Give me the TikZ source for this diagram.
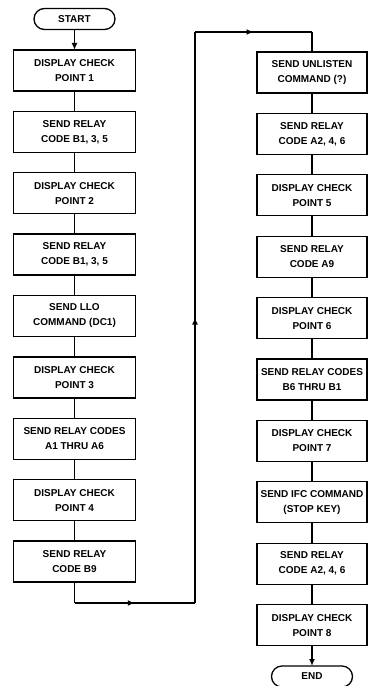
\documentclass[tikz,border=0pt]{standalone}
\usepackage{fontspec}
\setsansfont{Liberation Sans}
\usetikzlibrary{arrows.meta, positioning, decorations.markings}
\tikzset{
  term/.style={rectangle, rounded corners=10.5pt, draw=black, line width=1.3pt,
    minimum width=81pt, minimum height=21pt, inner sep=0pt, outer sep=0pt,
    font=\sffamily\bfseries\fontsize{10}{12}\selectfont},
  proc/.style={rectangle, draw=black, line width=1.3pt,
    minimum width=122pt, minimum height=41pt, inner sep=0pt, outer sep=0pt,
    align=center, font=\sffamily\bfseries\fontsize{10}{15}\selectfont},
  procr/.style={proc, minimum width=110pt},
  arr/.style={-{Latex[length=7pt,width=6pt]}, draw=black, line width=1.3pt},
  link/.style={draw=black, line width=1.3pt},
  midarr/.style={link, decoration={markings,
    mark=at position 0.5 with {\arrow{Latex[length=7pt,width=6pt]}}},
    postaction={decorate}},
}

\begin{document}
\begin{tikzpicture}[x=1pt, y=-1pt, node distance=20.4pt]
    \useasboundingbox (0,0) rectangle (368,686);

    % left column
    \node[term] (start)   at (74.5,19)          {START};
    \node[proc] (cpone)   [below=of start]      {DISPLAY CHECK\\POINT 1};
    \node[proc] (rbone)   [below=of cpone]      {SEND RELAY\\CODE B1, 3, 5};
    \node[proc] (cptwo)   [below=of rbone]      {DISPLAY CHECK\\POINT 2};
    \node[proc] (rbtwo)   [below=of cptwo]      {SEND RELAY\\CODE B1, 3, 5};
    \node[proc] (llo)     [below=of rbtwo]      {SEND LLO\\COMMAND (DC1)};
    \node[proc] (cpthree) [below=of llo]        {DISPLAY CHECK\\POINT 3};
    \node[proc] (raall)   [below=of cpthree]    {SEND RELAY CODES\\A1 THRU A6};
    \node[proc] (cpfour)  [below=of raall]      {DISPLAY CHECK\\POINT 4};
    \node[proc] (rbnine)  [below=of cpfour]     {SEND RELAY\\CODE B9};

    % right column
    \node[procr] (unl)     at (312,72.5)         {SEND UNLISTEN\\COMMAND (?)};
    \node[procr] (raeven)  [below=of unl]        {SEND RELAY\\CODE A2, 4, 6};
    \node[procr] (cpfive)  [below=of raeven]     {DISPLAY CHECK\\POINT 5};
    \node[procr] (ranine)  [below=of cpfive]     {SEND RELAY\\CODE A9};
    \node[procr] (cpsix)   [below=of ranine]     {DISPLAY CHECK\\POINT 6};
    \node[procr] (rball)   [below=of cpsix]      {SEND RELAY CODES\\B6 THRU B1};
    \node[procr] (cpseven) [below=of rball]      {DISPLAY CHECK\\POINT 7};
    \node[procr] (ifc)     [below=of cpseven]    {SEND IFC COMMAND\\(STOP KEY)};
    \node[procr] (raagain) [below=of ifc]        {SEND RELAY\\CODE A2, 4, 6};
    \node[procr] (cpeight) [below=of raagain]    {DISPLAY CHECK\\POINT 8};
    \node[term]  (finish)  [below=of cpeight]    {END};

    \coordinate (lowturn)  at (195,603);
    \coordinate (highturn) at (195,32);

    \draw[arr]  (start)   -- (cpone);
    \draw[link] (cpone)   -- (rbone);
    \draw[link] (rbone)   -- (cptwo);
    \draw[link] (cptwo)   -- (rbtwo);
    \draw[link] (rbtwo)   -- (llo);
    \draw[link] (llo)     -- (cpthree);
    \draw[link] (cpthree) -- (raall);
    \draw[link] (raall)   -- (cpfour);
    \draw[link] (cpfour)  -- (rbnine);

    \draw[link]   (rbnine) -- (rbnine.south |- lowturn);
    \draw[midarr] (rbnine.south |- lowturn) -- (lowturn);
    \draw[midarr] (lowturn) -- (highturn);
    \draw[midarr] (highturn) -- (highturn -| unl.north);
    \draw[link]   (highturn -| unl.north) -- (unl);

    \draw[link] (unl)     -- (raeven);
    \draw[link] (raeven)  -- (cpfive);
    \draw[link] (cpfive)  -- (ranine);
    \draw[link] (ranine)  -- (cpsix);
    \draw[link] (cpsix)   -- (rball);
    \draw[link] (rball)   -- (cpseven);
    \draw[link] (cpseven) -- (ifc);
    \draw[link] (ifc)     -- (raagain);
    \draw[link] (raagain) -- (cpeight);
    \draw[arr]  (cpeight) -- (finish);
  \end{tikzpicture}
\end{document}
